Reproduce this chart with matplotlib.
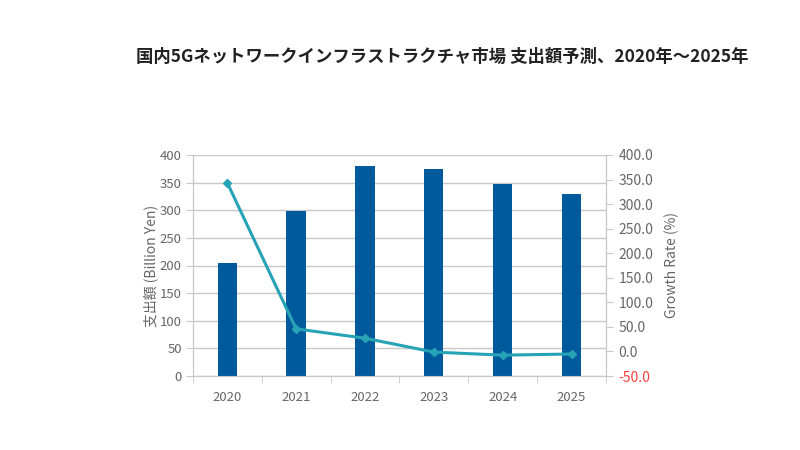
import matplotlib

matplotlib.use("Agg")
import matplotlib.pyplot as plt
import numpy as np

plt.rcParams["font.family"] = ["Noto Sans CJK JP", "DejaVu Sans"]

years = ["2020", "2021", "2022", "2023", "2024", "2025"]
spending = [205, 299, 380, 375, 347, 329]  # Billion Yen
growth = [343.6, 46.0, 27.0, -1.3, -7.5, -5.2]  # %

BAR_COLOR = "#005a9c"
LINE_COLOR = "#27a3b6"
GRID_COLOR = "#c8c8c8"
TEXT_COLOR = "#666666"

fig = plt.figure(figsize=(8, 4.5), dpi=100)
ax = fig.add_axes([0.241, 0.1644, 0.5165, 0.4912])
ax2 = ax.twinx()

x = np.arange(len(years))
ax.bar(x, spending, width=0.28, color=BAR_COLOR, zorder=3)
ax.set_xlim(-0.5, len(years) - 0.5)
ax.set_ylim(0, 400)
ax.set_yticks(range(0, 401, 50))
ax.yaxis.grid(True, color=GRID_COLOR, linewidth=1, zorder=0)
ax.set_axisbelow(True)

ax.set_xticks(x)
ax.set_xticklabels(years)
ax.set_xticks(np.arange(-0.5, len(years), 1), minor=True)
ax.tick_params(axis="x", which="major", length=0, pad=11, labelsize=9.5, labelcolor=TEXT_COLOR)
ax.tick_params(axis="x", which="minor", length=5, color=GRID_COLOR)
ax.tick_params(axis="y", length=5, color=GRID_COLOR, labelsize=9.5, labelcolor=TEXT_COLOR, pad=3)
ax.set_ylabel("支出額 (Billion Yen)", color=TEXT_COLOR, fontsize=10, labelpad=1)

ax2.plot(x, growth, color=LINE_COLOR, linewidth=2.2, marker="D", markersize=4.5, zorder=4)
ax2.set_ylim(-50, 400)
ax2.set_yticks(range(-50, 401, 50))
ax2.set_yticklabels([f"{v:.1f}" for v in range(-50, 401, 50)])
ax2.tick_params(axis="y", length=5, color=GRID_COLOR, labelsize=10, labelcolor=TEXT_COLOR, pad=4)
ax2.get_yticklabels()[0].set_color("#ff4040")
ax2.set_ylabel("Growth Rate (%)", color=TEXT_COLOR, fontsize=10, labelpad=8)

for a in (ax, ax2):
    for side in ("left", "right", "bottom"):
        a.spines[side].set_color(GRID_COLOR)
    a.spines["top"].set_visible(False)

fig.text(0.553, 0.873, "国内5Gネットワークインフラストラクチャ市場 支出額予測、2020年～2025年",
         ha="center", va="center", fontsize=12.5, fontweight="bold", color="#222222")

fig.savefig("out.png", dpi=100)
